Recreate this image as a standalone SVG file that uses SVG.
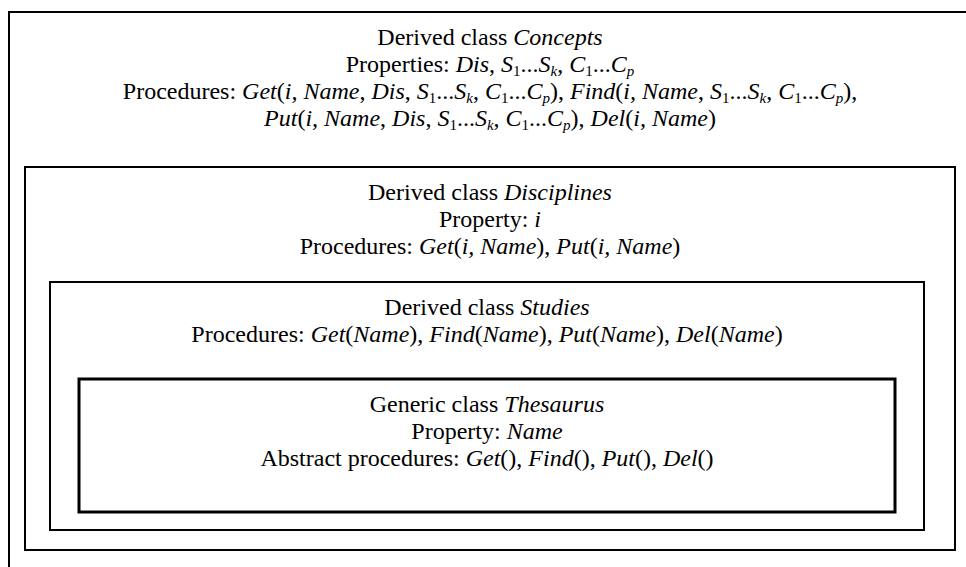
<svg xmlns="http://www.w3.org/2000/svg" width="966" height="567" viewBox="0 0 966 567">
  <style>
    .box { fill: none; stroke: #000; stroke-width: 2; }
    .thick { stroke-width: 3; }
    text { font-family: 'Liberation Serif', 'DejaVu Serif', serif; font-size: 24px; fill: #000; text-anchor: middle; }
    .i { font-style: italic; }
    .sb { font-size: 15px; }
  </style>
  <rect width="966" height="567" fill="#fff"/>

  <!-- Derived class Concepts (outer frame, runs past the right and bottom edges) -->
  <g id="concepts">
    <path class="box" d="M9,567 V12 H966"/>
    <text x="490" y="45">Derived class <tspan class="i">Concepts</tspan></text>
    <text x="490" y="72">Properties: <tspan class="i">Dis</tspan>, <tspan class="i">S</tspan><tspan class="sb" dy="4">1</tspan><tspan dy="-4">...</tspan><tspan class="i">S</tspan><tspan class="sb i" dy="4">k</tspan><tspan dy="-4">, </tspan><tspan class="i">C</tspan><tspan class="sb" dy="4">1</tspan><tspan dy="-4">...</tspan><tspan class="i">C</tspan><tspan class="sb i" dy="4">p</tspan></text>
    <text x="490" y="99">Procedures: <tspan class="i">Get</tspan>(<tspan class="i">i, Name</tspan>, <tspan class="i">Dis</tspan>, <tspan class="i">S</tspan><tspan class="sb" dy="4">1</tspan><tspan dy="-4">...</tspan><tspan class="i">S</tspan><tspan class="sb i" dy="4">k</tspan><tspan dy="-4">, </tspan><tspan class="i">C</tspan><tspan class="sb" dy="4">1</tspan><tspan dy="-4">...</tspan><tspan class="i">C</tspan><tspan class="sb i" dy="4">p</tspan><tspan dy="-4">), </tspan><tspan class="i">Find</tspan>(<tspan class="i">i, Name</tspan>, <tspan class="i">S</tspan><tspan class="sb" dy="4">1</tspan><tspan dy="-4">...</tspan><tspan class="i">S</tspan><tspan class="sb i" dy="4">k</tspan><tspan dy="-4">, </tspan><tspan class="i">C</tspan><tspan class="sb" dy="4">1</tspan><tspan dy="-4">...</tspan><tspan class="i">C</tspan><tspan class="sb i" dy="4">p</tspan><tspan dy="-4">),</tspan></text>
    <text x="490" y="126"><tspan class="i">Put</tspan>(<tspan class="i">i, Name</tspan>, <tspan class="i">Dis</tspan>, <tspan class="i">S</tspan><tspan class="sb" dy="4">1</tspan><tspan dy="-4">...</tspan><tspan class="i">S</tspan><tspan class="sb i" dy="4">k</tspan><tspan dy="-4">, </tspan><tspan class="i">C</tspan><tspan class="sb" dy="4">1</tspan><tspan dy="-4">...</tspan><tspan class="i">C</tspan><tspan class="sb i" dy="4">p</tspan><tspan dy="-4">), </tspan><tspan class="i">Del</tspan>(<tspan class="i">i, Name</tspan>)</text>
  </g>

  <!-- Derived class Disciplines -->
  <g id="disciplines">
    <rect class="box" x="25" y="167" width="930" height="383"/>
    <text x="490" y="200">Derived class <tspan class="i">Disciplines</tspan></text>
    <text x="490" y="227">Property: <tspan class="i">i</tspan></text>
    <text x="490" y="254">Procedures: <tspan class="i">Get</tspan>(<tspan class="i">i, Name</tspan>), <tspan class="i">Put</tspan>(<tspan class="i">i, Name</tspan>)</text>
  </g>

  <!-- Derived class Studies -->
  <g id="studies">
    <rect class="box" x="50" y="282" width="874" height="248"/>
    <text x="487" y="315">Derived class <tspan class="i">Studies</tspan></text>
    <text x="487" y="342">Procedures: <tspan class="i">Get</tspan>(<tspan class="i">Name</tspan>), <tspan class="i">Find</tspan>(<tspan class="i">Name</tspan>), <tspan class="i">Put</tspan>(<tspan class="i">Name</tspan>), <tspan class="i">Del</tspan>(<tspan class="i">Name</tspan>)</text>
  </g>

  <!-- Generic class Thesaurus -->
  <g id="thesaurus">
    <rect class="box thick" x="79" y="379" width="816" height="133"/>
    <text x="487" y="412">Generic class <tspan class="i">Thesaurus</tspan></text>
    <text x="487" y="439">Property: <tspan class="i">Name</tspan></text>
    <text x="487" y="466">Abstract procedures: <tspan class="i">Get</tspan>(), <tspan class="i">Find</tspan>(), <tspan class="i">Put</tspan>(), <tspan class="i">Del</tspan>()</text>
  </g>
</svg>
